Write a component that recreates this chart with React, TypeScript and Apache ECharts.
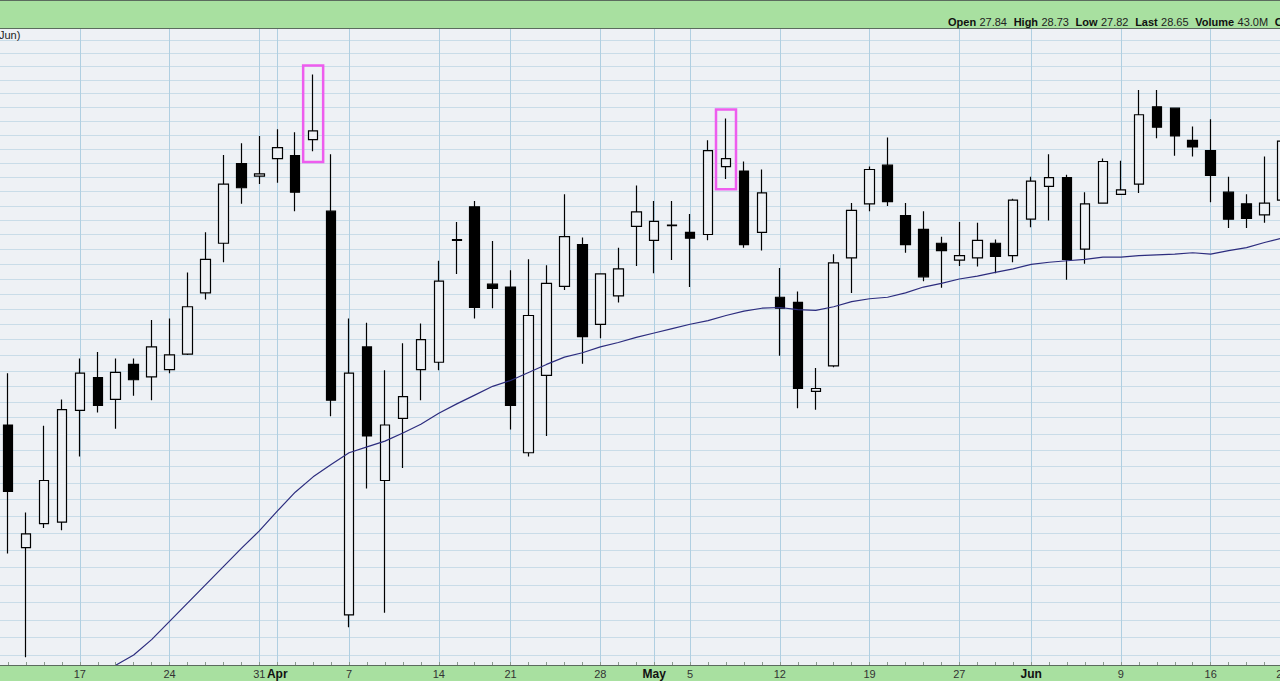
import React, { useEffect, useRef } from 'react';
import * as echarts from 'echarts';

// Trading days shown (2025)
const dates = [
  '2025-03-11', '2025-03-12', '2025-03-13', '2025-03-14',
  '2025-03-17', '2025-03-18', '2025-03-19', '2025-03-20', '2025-03-21',
  '2025-03-24', '2025-03-25', '2025-03-26', '2025-03-27', '2025-03-28',
  '2025-03-31', '2025-04-01', '2025-04-02', '2025-04-03', '2025-04-04',
  '2025-04-07', '2025-04-08', '2025-04-09', '2025-04-10', '2025-04-11',
  '2025-04-14', '2025-04-15', '2025-04-16', '2025-04-17',
  '2025-04-21', '2025-04-22', '2025-04-23', '2025-04-24', '2025-04-25',
  '2025-04-28', '2025-04-29', '2025-04-30', '2025-05-01', '2025-05-02',
  '2025-05-05', '2025-05-06', '2025-05-07', '2025-05-08', '2025-05-09',
  '2025-05-12', '2025-05-13', '2025-05-14', '2025-05-15', '2025-05-16',
  '2025-05-19', '2025-05-20', '2025-05-21', '2025-05-22', '2025-05-23',
  '2025-05-27', '2025-05-28', '2025-05-29', '2025-05-30',
  '2025-06-02', '2025-06-03', '2025-06-04', '2025-06-05', '2025-06-06',
  '2025-06-09', '2025-06-10', '2025-06-11', '2025-06-12', '2025-06-13',
  '2025-06-16', '2025-06-17', '2025-06-18', '2025-06-20',
  '2025-06-23',
];

const opens = [
  24.76, 23.08, 23.41, 23.43,
  24.96, 25.41, 25.11, 25.59, 25.42,
  25.52, 25.73, 26.57, 27.25, 28.34,
  28.17, 28.41, 28.45, 28.67, 27.69,
  22.16, 25.83, 24.00, 24.85, 25.52,
  25.62, 27.29, 27.75, 26.69,
  26.65, 24.38, 25.44, 26.66, 27.23,
  26.14, 26.53, 27.48, 27.29, 27.49,
  27.40, 27.37, 28.30, 28.24, 27.40,
  26.51, 26.44, 25.22, 25.57, 27.05,
  27.79, 28.32, 27.63, 27.44, 27.25,
  27.02, 27.05, 27.25, 27.08,
  27.58, 28.03, 28.15, 27.17, 27.80,
  27.92, 28.06, 29.12, 29.10, 28.66,
  28.52, 27.95, 27.79, 27.64,
  27.84,
];

const closes = [
  23.85, 23.27, 24.00, 24.97,
  25.47, 25.03, 25.48, 25.38, 25.83,
  25.72, 26.38, 27.03, 28.06, 28.01,
  28.20, 28.56, 27.95, 28.79, 25.10,
  25.47, 24.61, 24.76, 25.15, 25.93,
  26.73, 27.30, 26.37, 26.63,
  25.03, 26.26, 26.70, 27.34, 25.97,
  26.83, 26.90, 27.68, 27.55, 27.50,
  27.32, 28.52, 28.41, 27.23, 27.94,
  26.36, 25.26, 25.26, 26.98, 27.70,
  28.26, 27.82, 27.23, 26.79, 27.15,
  27.08, 27.29, 27.07, 27.84,
  28.10, 28.15, 27.03, 27.79, 28.37,
  27.98, 29.01, 28.84, 28.72, 28.57,
  28.18, 27.58, 27.59, 27.80,
  28.65,
];

const lows = [
  23.00, 21.58, 23.35, 23.32,
  24.33, 24.93, 24.71, 25.16, 25.10,
  25.47, 25.72, 26.48, 26.99, 27.79,
  28.06, 28.08, 27.69, 28.51, 24.88,
  21.99, 23.89, 22.19, 24.17, 25.10,
  25.51, 26.83, 26.22, 26.36,
  24.70, 24.33, 24.61, 26.61, 25.60,
  25.95, 26.44, 26.94, 26.84, 27.02,
  26.65, 27.29, 28.13, 27.19, 27.15,
  25.71, 24.99, 24.97, 25.55, 26.57,
  27.69, 27.76, 27.12, 26.73, 26.64,
  26.94, 26.93, 26.84, 26.99,
  27.47, 27.56, 26.75, 26.97, 27.79,
  27.91, 27.94, 28.69, 28.45, 28.44,
  27.81, 27.46, 27.46, 27.53,
  27.82,
];

const highs = [
  25.47, 23.56, 24.75, 25.11,
  25.67, 25.76, 25.67, 25.67, 26.20,
  26.22, 26.85, 27.40, 28.46, 28.62,
  28.72, 28.81, 28.77, 29.56, 28.47,
  26.22, 26.16, 25.51, 25.88, 26.15,
  27.01, 27.54, 27.83, 27.28,
  26.88, 27.03, 26.95, 27.92, 27.33,
  26.84, 27.19, 28.04, 27.83, 27.83,
  27.65, 28.66, 28.96, 28.37, 28.26,
  26.91, 26.59, 25.54, 27.10, 27.80,
  28.30, 28.70, 27.80, 27.69, 27.34,
  27.54, 27.53, 27.30, 27.86,
  28.16, 28.47, 28.19, 27.95, 28.41,
  28.38, 29.35, 29.35, 29.11, 28.85,
  28.95, 28.16, 27.92, 28.44,
  28.73,
];

// Moving average overlay (enters the frame from below)
const movingAverage = [
  null, null, null, null,
  null, null, 21.47, 21.61, 21.82,
  22.07, 22.32, 22.57, 22.82, 23.07,
  23.31, 23.58, 23.84, 24.05, 24.22,
  24.38, 24.46, 24.54, 24.65, 24.77,
  24.92, 25.05, 25.17, 25.29,
  25.37, 25.48, 25.59, 25.69, 25.75,
  25.83, 25.89, 25.96, 26.02, 26.08,
  26.14, 26.19, 26.26, 26.32, 26.36,
  26.37, 26.34, 26.33, 26.38, 26.45,
  26.49, 26.51, 26.57, 26.65, 26.70,
  26.76, 26.80, 26.85, 26.90,
  26.96, 26.99, 27.01, 27.03, 27.06,
  27.06, 27.08, 27.09, 27.10, 27.12,
  27.10, 27.15, 27.19, 27.26,
  27.32,
];

// x-axis tick labels (weekly starts and month starts)
const tickLabels: Record<string, string> = {
  '2025-03-17': '17',
  '2025-03-24': '24',
  '2025-03-31': '31',
  '2025-04-01': 'Apr',
  '2025-04-07': '7',
  '2025-04-14': '14',
  '2025-04-21': '21',
  '2025-04-28': '28',
  '2025-05-01': 'May',
  '2025-05-05': '5',
  '2025-05-12': '12',
  '2025-05-19': '19',
  '2025-05-27': '27',
  '2025-06-02': 'Jun',
  '2025-06-09': '9',
  '2025-06-16': '16',
  '2025-06-23': '23',
};
const monthNames = ['Apr', 'May', 'Jun'];

// horizontal grid levels (price lines of the chart's price scale)
const hGridLevels = [
  21.601, 21.847, 22.090, 22.332, 22.571, 22.808, 23.044, 23.277, 23.508, 23.737,
  23.964, 24.190, 24.414, 24.636, 24.855, 25.074, 25.290, 25.505, 25.718, 25.930,
  26.140, 26.348, 26.555, 26.760, 26.964, 27.166, 27.367, 27.566, 27.764, 27.960,
  28.155, 28.349, 28.541, 28.732, 28.922, 29.110, 29.297, 29.482, 29.667, 29.851,
  30.033,
];

// highlighted candles (magenta boxes)
const highlightDates = ['2025-04-03', '2025-05-07'];
const highlightTops = [29.684, 29.081];
const highlightBottoms = [28.363, 27.988];

// quote header
const quoteLabels = ['Open', 'High', 'Low', 'Last', 'Volume', 'Chg'];
const quoteValues = ['27.84', '28.73', '27.82', '28.65', '43.0M', ''];

const FONT = '"Liberation Sans", Arial, Helvetica, sans-serif';
const GREEN = '#a8e0a0';
const BORDER = '#5b6b5e';
const BG = '#eef1f5';

export default function App() {
  const ref = useRef<HTMLDivElement>(null);

  useEffect(() => {
    if (!ref.current) return;
    const chart = echarts.init(ref.current, undefined, { renderer: 'svg' });

    const candleData = dates.map((_, i) => [opens[i], closes[i], lows[i], highs[i]]);
    const weekLineDates = Object.keys(tickLabels);

    const headerText = quoteLabels
      .map((k, i) => (quoteValues[i] ? `{b|${k}} {n|${quoteValues[i]}}` : `{b|${k}}`))
      .join('  ');

    const option: any = {
      animation: false,
      backgroundColor: BG,
      grid: {
        left: -0.975,
        top: 29,
        width: 1292.4,
        height: 636,
        containLabel: false,
        outerBoundsMode: 'none',
      },
      xAxis: {
        type: 'category',
        data: dates,
        boundaryGap: true,
        z: 10,
        axisLine: { show: true, lineStyle: { color: BORDER, width: 1 } },
        axisTick: {
          show: true,
          interval: 0,
          alignWithLabel: true,
          inside: true,
          length: 3,
          lineStyle: { color: '#8a9a8e', width: 1 },
        },
        axisLabel: {
          interval: 0,
          margin: 3,
          fontSize: 11,
          fontFamily: FONT,
          color: '#333',
          formatter: (v: string) => {
            const t = tickLabels[v];
            if (!t) return '';
            return monthNames.includes(t) ? `{m|${t}}` : t;
          },
          rich: {
            m: { fontSize: 12, fontWeight: 'bold', fontFamily: FONT, color: '#111' },
          },
        },
        splitLine: { show: false },
      },
      yAxis: {
        type: 'value',
        min: 21.4726,
        max: 30.1849,
        show: false,
        splitLine: { show: false },
      },
      graphic: [
        { type: 'rect', z: 0, shape: { x: 0, y: 0, width: 1280, height: 28.5 }, style: { fill: GREEN } },
        { type: 'line', z: 1, shape: { x1: 0, y1: 0.5, x2: 1280, y2: 0.5 }, style: { stroke: BORDER, lineWidth: 1 } },
        { type: 'line', z: 1, shape: { x1: 0, y1: 28.5, x2: 1280, y2: 28.5 }, style: { stroke: BORDER, lineWidth: 1 } },
        { type: 'rect', z: 0, shape: { x: 0, y: 665, width: 1280, height: 16 }, style: { fill: GREEN } },
        {
          type: 'text',
          z: 5,
          x: 948,
          y: 22,
          style: {
            text: headerText,
            verticalAlign: 'middle',
            align: 'left',
            rich: {
              b: { fontSize: 11, fontWeight: 'bold', fontFamily: FONT, fill: '#111' },
              n: { fontSize: 11, fontFamily: FONT, fill: '#222' },
            },
          },
        },
        {
          type: 'text',
          z: 5,
          x: -1,
          y: 35,
          style: {
            text: 'Jun)',
            verticalAlign: 'middle',
            align: 'left',
            fontSize: 11,
            fontFamily: FONT,
            fill: '#222',
          },
        },
      ],
      series: [
        {
          type: 'candlestick',
          data: candleData,
          barWidth: 10,
          z: 3,
          itemStyle: {
            color: BG,
            color0: '#000',
            borderColor: '#000',
            borderColor0: '#000',
            borderWidth: 1.2,
          },
          markLine: {
            silent: true,
            z: 1,
            symbol: ['none', 'none'],
            label: { show: false },
            animation: false,
            data: [
              ...hGridLevels.map((v) => ({
                yAxis: v,
                lineStyle: { color: '#c9dce8', width: 1, type: 'solid' },
              })),
              ...weekLineDates.map((d) => ({
                xAxis: d,
                lineStyle: { color: '#b0cfe1', width: 1, type: 'solid' },
              })),
            ],
          },
        },
        {
          type: 'line',
          data: movingAverage,
          symbol: 'none',
          z: 4,
          connectNulls: false,
          lineStyle: { color: '#2c2c7e', width: 1.2 },
        },
        {
          type: 'custom',
          z: 6,
          silent: true,
          data: highlightDates.map((d, i) => [d, highlightTops[i], highlightBottoms[i]]),
          renderItem: (_params: any, api: any) => {
            const top = api.coord([api.value(0), api.value(1)]);
            const bot = api.coord([api.value(0), api.value(2)]);
            return {
              type: 'rect',
              shape: { x: top[0] - 10, y: top[1], width: 20, height: bot[1] - top[1] },
              style: { fill: 'none', stroke: '#ee5cee', lineWidth: 2.5 },
            };
          },
        },
      ],
    };

    chart.setOption(option);
    return () => chart.dispose();
  }, []);

  return (
    <div
      ref={ref}
      style={{ position: 'absolute', left: 0, top: 0, width: 1280, height: 681 }}
    />
  );
}
